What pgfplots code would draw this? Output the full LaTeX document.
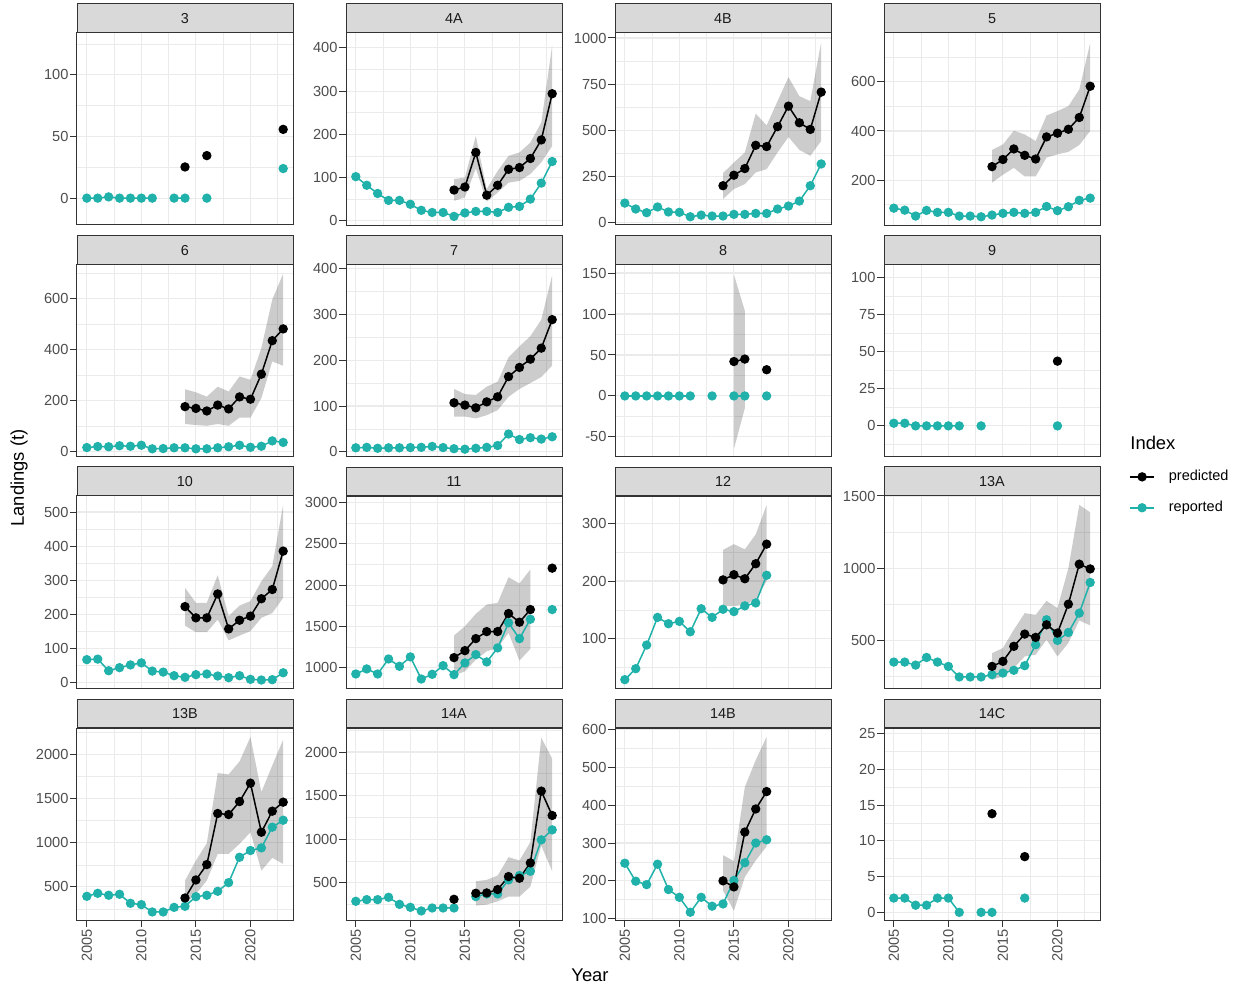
\documentclass[border=0pt]{standalone}
\usepackage{pgfplots}
\pgfplotsset{compat=1.18}
\usepackage{fontspec}
\setmainfont{Liberation Sans}
\definecolor{repcol}{RGB}{32,178,170}
\definecolor{grey20}{RGB}{51,51,51}
\definecolor{grey30}{RGB}{77,77,77}
\definecolor{grey92}{RGB}{235,235,235}
\definecolor{grey85}{RGB}{217,217,217}
\definecolor{grey10}{RGB}{26,26,26}
\pgfplotsset{
  panel/.style={
    scale only axis, width=108pt, height=96pt, anchor=north west,
    xmin=2004.1, xmax=2023.9,
    xtick={2005,2010,2015,2020}, minor xtick={2007.5,2012.5,2017.5,2022.5},
    grid=both,
    major grid style={draw=grey92, line width=0.55pt},
    minor grid style={draw=grey92, line width=0.3pt},
    axis line style={draw=grey20, line width=0.5pt},
    major tick style={draw=grey20, line width=0.5pt},
    major tick length=3.3pt, minor tick length=0pt,
    tick align=outside, xtick pos=bottom, ytick pos=left,
    ticklabel style={font=\fontsize{7.3}{8}\selectfont, text=grey30},
    yticklabel style={inner sep=0.8pt},
    /pgf/number format/assume math mode=true,
    /pgf/number format/1000 sep={},
    scaled y ticks=false,
    unbounded coords=jump,
    title style={at={(0.5,1)}, anchor=south, yshift=-6pt, fill=grey85, draw=grey20, line width=0.5pt, minimum width=108pt, minimum height=14.25pt, inner sep=0pt, font=\fontsize{7.2}{8}\selectfont, text=grey10},
  },
  up/.style={xmajorticks=false},
  bot/.style={xticklabel style={rotate=90, anchor=east, inner sep=1pt}},
  repst/.style={color=repcol, line width=0.75pt, mark=*, mark size=1.95pt, mark options={solid, fill=repcol, draw=repcol}},
  predst/.style={color=black, line width=0.75pt, mark=*, mark size=1.95pt, mark options={solid, fill=black}},
  rib/.style={fill=black, fill opacity=0.2, draw=none, forget plot},
}
\begin{document}
\begin{tikzpicture}
% ---------------- Row 1
\begin{axis}[panel, up, at={(38.5pt,-16.5pt)}, title={3}, ymin=-21.8, ymax=134,
  ytick={0,50,100}, minor ytick={25,75,125}]
\addplot[repst] coordinates {(2005,0)(2006,0)(2007,1)(2008,0)(2009,0)(2010,0)(2011,0)(2012,nan)(2013,0)(2014,0)(2015,nan)(2016,0)(2017,nan)(2023,24)};
\addplot[predst] coordinates {(2014,25.3)(2015,nan)(2016,34.5)(2017,nan)(2023,55.8)};
\end{axis}
\begin{axis}[panel, up, at={(173pt,-16.5pt)}, title={4A}, ymin=-10, ymax=434.6,
  ytick={0,100,200,300,400}, minor ytick={50,150,250,350}]
\addplot[rib] coordinates {(2014,96)(2015,100)(2016,196)(2017,73)(2018,115)(2019,150)(2020,158)(2021,181)(2022,227)(2023,406)(2023,173)(2022,135)(2021,108)(2020,92)(2019,88)(2018,65)(2017,44)(2016,121)(2015,54)(2014,46)};
\addplot[repst] coordinates {(2005,102)(2006,82)(2007,63)(2008,47)(2009,47)(2010,38)(2011,24)(2012,19)(2013,19)(2014,10)(2015,18)(2016,21.5)(2017,21.5)(2018,19)(2019,31)(2020,33)(2021,50)(2022,87)(2023,137)};
\addplot[predst] coordinates {(2014,71)(2015,78)(2016,158)(2017,59)(2018,82)(2019,119)(2020,123)(2021,144)(2022,187)(2023,294)};
\end{axis}
\begin{axis}[panel, up, at={(307.5pt,-16.5pt)}, title={4B}, ymin=-12.6, ymax=1027,
  ytick={0,250,500,750,1000}, minor ytick={125,375,625,875}]
\addplot[rib] coordinates {(2014,268)(2015,326)(2016,380)(2017,590)(2018,527)(2019,658)(2020,788)(2021,685)(2022,658)(2023,977)(2023,442)(2022,362)(2021,394)(2020,464)(2019,380)(2018,290)(2017,272)(2016,209)(2015,182)(2014,128)};
\addplot[repst] coordinates {(2005,106)(2006,74)(2007,54)(2008,85)(2009,58)(2010,56)(2011,32)(2012,41)(2013,36)(2014,36)(2015,45)(2016,45)(2017,50)(2018,50)(2019,74)(2020,90)(2021,117)(2022,200)(2023,318)};
\addplot[predst] coordinates {(2014,200)(2015,257)(2016,293)(2017,419)(2018,412)(2019,520)(2020,631)(2021,541)(2022,505)(2023,707)};
\end{axis}
\begin{axis}[panel, up, at={(442pt,-16.5pt)}, title={5}, ymin=17.6, ymax=798.6,
  ytick={200,400,600}, minor ytick={100,300,500,700}]
\addplot[rib] coordinates {(2014,323)(2015,345)(2016,401)(2017,386)(2018,359)(2019,463)(2020,481)(2021,501)(2022,569)(2023,758)(2023,400)(2022,343)(2021,315)(2020,305)(2019,292)(2018,215)(2017,215)(2016,250)(2015,222)(2014,190)};
\addplot[repst] coordinates {(2005,86)(2006,78)(2007,54)(2008,77)(2009,69)(2010,69)(2011,54)(2012,54)(2013,51)(2014,58)(2015,65)(2016,69)(2017,65)(2018,69)(2019,93)(2020,76)(2021,92)(2022,118)(2023,127)};
\addplot[predst] coordinates {(2014,255)(2015,284)(2016,327)(2017,301)(2018,286)(2019,376)(2020,391)(2021,407)(2022,455)(2023,582)};
\end{axis}
% ---------------- Row 2
\begin{axis}[panel, up, at={(38.5pt,-132.5pt)}, title={6}, ymin=-20, ymax=731,
  ytick={0,200,400,600}, minor ytick={100,300,500,700}]
\addplot[rib] coordinates {(2014,245)(2015,233)(2016,216)(2017,255)(2018,236)(2019,295)(2020,282)(2021,406)(2022,596)(2023,697)(2023,337)(2022,354)(2021,210)(2020,134)(2019,134)(2018,102)(2017,109)(2016,102)(2015,105)(2014,109)};
\addplot[repst] coordinates {(2005,17)(2006,21)(2007,20)(2008,24)(2009,22)(2010,26)(2011,12)(2012,13)(2013,16)(2014,16)(2015,12)(2016,12)(2017,16)(2018,20)(2019,26)(2020,18)(2021,22)(2022,43)(2023,37)};
\addplot[predst] coordinates {(2014,177)(2015,170)(2016,160)(2017,183)(2018,168)(2019,215)(2020,206)(2021,304)(2022,435)(2023,481)};
\end{axis}
\begin{axis}[panel, up, at={(173pt,-132.5pt)}, title={7}, ymin=-11, ymax=407,
  ytick={0,100,200,300,400}, minor ytick={50,150,250,350}]
\addplot[rib] coordinates {(2014,137)(2015,126)(2016,124)(2017,142)(2018,153)(2019,206)(2020,230)(2021,252)(2022,288)(2023,385)(2023,188)(2022,163)(2021,150)(2020,137)(2019,120)(2018,91)(2017,80)(2016,73)(2015,77)(2014,77)};
\addplot[repst] coordinates {(2005,9)(2006,10)(2007,8)(2008,9)(2009,9)(2010,9.5)(2011,10)(2012,12)(2013,9.5)(2014,7)(2015,6)(2016,8)(2017,10)(2018,14)(2019,39)(2020,27)(2021,31)(2022,28)(2023,33)};
\addplot[predst] coordinates {(2014,107)(2015,102)(2016,96)(2017,109)(2018,120)(2019,164)(2020,184)(2021,202)(2022,226)(2023,288)};
\end{axis}
\begin{axis}[panel, up, at={(307.5pt,-132.5pt)}, title={8}, ymin=-74.5, ymax=159.8,
  ytick={-50,0,50,100,150}, minor ytick={-25,25,75,125}]
\addplot[rib] coordinates {(2015,148)(2016,104)(2016,-15)(2015,-64.6)};
\addplot[repst] coordinates {(2005,0)(2006,0)(2007,0)(2008,0)(2009,0)(2010,0)(2011,0)(2012,nan)(2013,0)(2014,nan)(2015,0)(2016,0)(2017,nan)(2018,0)};
\addplot[predst] coordinates {(2015,42)(2016,45)(2017,nan)(2018,32)};
\end{axis}
\begin{axis}[panel, up, at={(442pt,-132.5pt)}, title={9}, ymin=-21, ymax=108.6,
  ytick={0,25,50,75,100}, minor ytick={-12.5,12.5,37.5,62.5,87.5},
  legend style={at={(1.134,-0.061)}, anchor=north west, draw=none, fill=none, inner sep=0pt,
    row sep=7.7pt, font=\fontsize{7.25}{8}\selectfont, cells={anchor=west},
    nodes={inner sep=0.5pt}, /tikz/every odd column/.append style={column sep=6.5pt}},
  legend image code/.code={\draw[mark repeat=2,mark phase=2,#1] plot coordinates {(0pt,0pt) (6pt,0pt) (12pt,0pt)};}]
\addlegendimage{predst}\addlegendentry{predicted}
\addlegendimage{repst}\addlegendentry{reported}
\addplot[repst, forget plot] coordinates {(2005,1.8)(2006,1.8)(2007,0)(2008,0)(2009,0)(2010,0)(2011,0)(2012,nan)(2013,0)(2014,nan)(2020,0)};
\addplot[predst, forget plot] coordinates {(2020,43.7)};
\end{axis}
% ---------------- Row 3
\begin{axis}[panel, up, at={(38.5pt,-248pt)}, title={10}, ymin=-15.6, ymax=547,
  ytick={0,100,200,300,400,500}, minor ytick={50,150,250,350,450}]
\addplot[rib] coordinates {(2014,278)(2015,234)(2016,234)(2017,315)(2018,195)(2019,226)(2020,239)(2021,297)(2022,341)(2023,522)(2023,248.5)(2022,204)(2021,190)(2020,151)(2019,138)(2018,124)(2017,185)(2016,148)(2015,148)(2014,167)};
\addplot[repst] coordinates {(2005,67.5)(2006,69)(2007,35)(2008,44)(2009,52)(2010,58)(2011,34)(2012,31)(2013,20.5)(2014,15.7)(2015,23.5)(2016,25.4)(2017,19.6)(2018,14.7)(2019,20.5)(2020,9.8)(2021,7.8)(2022,8.8)(2023,29)};
\addplot[predst] coordinates {(2014,223)(2015,190)(2016,190)(2017,260)(2018,157.5)(2019,183)(2020,195)(2021,246)(2022,273)(2023,385.5)};
\end{axis}
\begin{axis}[panel, up, at={(173pt,-248pt)}, title={11}, ymin=753, ymax=3081,
  ytick={1000,1500,2000,2500,3000}, minor ytick={1250,1750,2250,2750}]
\addplot[rib] coordinates {(2014,1389)(2015,1502)(2016,1652)(2017,1765)(2018,1785)(2019,2097)(2020,2020)(2021,2190)(2021,1227)(2020,1085)(2019,1421)(2018,1239)(2017,1198)(2016,1097)(2015,955)(2014,903)};
\addplot[repst] coordinates {(2005,923)(2006,984)(2007,923)(2008,1105)(2009,1016)(2010,1130)(2011,862)(2012,919)(2013,1024)(2014,915)(2015,1057)(2016,1158)(2017,1069)(2018,1239)(2019,1543)(2020,1352)(2021,1587)(2022,nan)(2023,1704)};
\addplot[predst] coordinates {(2014,1121)(2015,1206)(2016,1352)(2017,1437)(2018,1437)(2019,1656)(2020,1551)(2021,1704)(2022,nan)(2023,2206)};
\end{axis}
\begin{axis}[panel, up, at={(307.5pt,-248pt)}, title={12}, ymin=14.5, ymax=347.5,
  ytick={100,200,300}, minor ytick={50,150,250}]
\addplot[rib] coordinates {(2014,254)(2015,264)(2016,255)(2017,281)(2018,332)(2018,200)(2017,167)(2016,159)(2015,156.5)(2014,156.5)};
\addplot[repst] coordinates {(2005,29)(2006,48)(2007,89)(2008,137)(2009,126)(2010,130)(2011,112)(2012,152)(2013,137)(2014,151)(2015,147)(2016,157)(2017,162)(2018,210)};
\addplot[predst] coordinates {(2014,202)(2015,211)(2016,204)(2017,230)(2018,264)};
\end{axis}
\begin{axis}[panel, up, at={(442pt,-248pt)}, title={13A}, ymin=170.5, ymax=1500,
  ytick={500,1000,1500}, minor ytick={250,750,1250}]
\addplot[rib] coordinates {(2014,412)(2015,447)(2016,574)(2017,689)(2018,677)(2019,774)(2020,724)(2021,1000)(2022,1438)(2023,1387)(2023,604)(2022,638)(2021,482)(2020,389)(2019,505)(2018,401)(2017,389)(2016,309)(2015,251)(2014,228)};
\addplot[repst] coordinates {(2005,350)(2006,350)(2007,329)(2008,382)(2009,350)(2010,320)(2011,247)(2012,247)(2013,247)(2014,263)(2015,274)(2016,293)(2017,325)(2018,470)(2019,643)(2020,500)(2021,555)(2022,689)(2023,901)};
\addplot[predst] coordinates {(2014,320)(2015,355)(2016,459)(2017,544)(2018,521)(2019,608)(2020,551)(2021,751)(2022,1028)(2023,995)};
\end{axis}
% ---------------- Row 4
\begin{axis}[panel, bot, at={(38.5pt,-364pt)}, title={13B}, ymin=126, ymax=2298,
  ytick={500,1000,1500,2000}, minor ytick={250,750,1250,1750,2250}]
\addplot[rib] coordinates {(2014,572)(2015,798)(2016,995)(2017,1788)(2018,1773)(2019,1920)(2020,2197)(2021,1573)(2022,1875)(2023,2167)(2023,761)(2022,829)(2021,685)(2020,1119)(2019,987)(2018,874)(2017,874)(2016,572)(2015,420)(2014,307)};
\addplot[repst] coordinates {(2005,394)(2006,428)(2007,406)(2008,417)(2009,315)(2010,300)(2011,217)(2012,217)(2013,269)(2014,281)(2015,390)(2016,406)(2017,451)(2018,549)(2019,836)(2020,912)(2021,942)(2022,1176)(2023,1255)};
\addplot[predst] coordinates {(2014,375)(2015,579)(2016,753)(2017,1331)(2018,1319)(2019,1466)(2020,1674)(2021,1119)(2022,1357)(2023,1459)};
\end{axis}
\begin{axis}[panel, bot, at={(173pt,-364pt)}, title={14A}, ymin=70, ymax=2276,
  ytick={500,1000,1500,2000}, minor ytick={250,750,1250,1750,2250}]
\addplot[rib] coordinates {(2016,515)(2017,531)(2018,581)(2019,792)(2020,754)(2021,965)(2022,2164)(2023,1923)(2023,630)(2022,925)(2021,454)(2020,339)(2019,339)(2018,285)(2017,247)(2016,236)};
\addplot[repst] coordinates {(2005,285)(2006,304)(2007,304)(2008,331)(2009,250)(2010,216)(2011,174)(2012,208)(2013,208)(2014,208)(2015,nan)(2016,339)(2017,370)(2018,370)(2019,531)(2020,581)(2021,630)(2022,991)(2023,1106)};
\addplot[predst] coordinates {(2014,308)(2015,nan)(2016,377)(2017,381)(2018,420)(2019,569)(2020,550)(2021,726)(2022,1551)(2023,1271)};
\end{axis}
\begin{axis}[panel, bot, at={(307.5pt,-364pt)}, title={14B}, ymin=96.5, ymax=604,
  ytick={100,200,300,400,500,600}, minor ytick={150,250,350,450,550}]
\addplot[rib] coordinates {(2014,268)(2015,252)(2016,448)(2017,519)(2018,581)(2018,291)(2017,254)(2016,210)(2015,121)(2014,174)};
\addplot[repst] coordinates {(2005,246.6)(2006,199)(2007,190)(2008,244)(2009,177)(2010,156.5)(2011,117)(2012,156.5)(2013,133)(2014,139)(2015,201)(2016,248)(2017,300)(2018,308.5)};
\addplot[predst] coordinates {(2014,200)(2015,184)(2016,329)(2017,390)(2018,436)};
\end{axis}
\begin{axis}[panel, bot, at={(442pt,-364pt)}, title={14C}, ymin=-1.07, ymax=25.8,
  ytick={0,5,10,15,20,25}, minor ytick={2.5,7.5,12.5,17.5,22.5}]
\addplot[repst] coordinates {(2005,2)(2006,2)(2007,1)(2008,1)(2009,2)(2010,2)(2011,0)(2012,nan)(2013,0)(2014,0)(2015,nan)(2017,2)};
\addplot[predst] coordinates {(2014,13.8)(2015,nan)(2017,7.8)};
\end{axis}
% ---------------- titles
\node[rotate=90, font=\fontsize{9.2}{10}\selectfont, inner sep=0pt] at (9.5pt,-239pt) {Landings (t)};
\node[font=\fontsize{9.2}{10}\selectfont, inner sep=0pt] at (295pt,-487.5pt) {Year};
\node[anchor=west, font=\fontsize{9.2}{10}\selectfont, inner sep=0pt] at (565pt,-221.5pt) {Index};
\pgfresetboundingbox
\path[use as bounding box] (0,0) rectangle (621pt,-494.5pt);
\end{tikzpicture}
\end{document}
